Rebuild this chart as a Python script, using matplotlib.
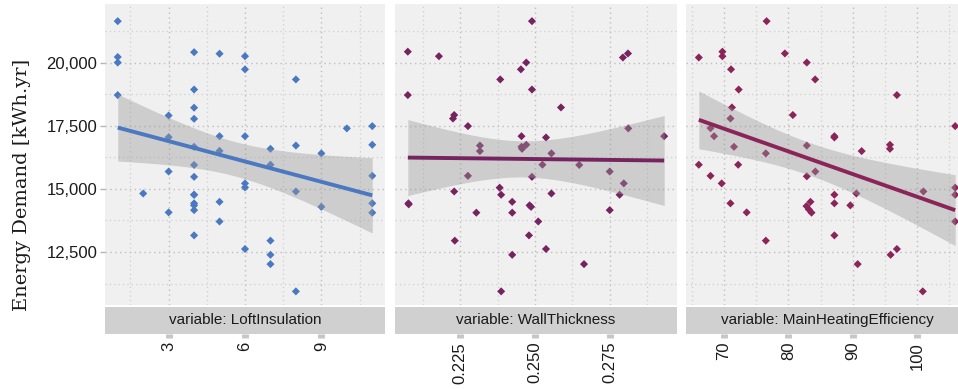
"""
Energy demand vs. three house parameters — faceted scatter with linear fits.
"""
import numpy as np
import matplotlib
matplotlib.use("Agg")
import matplotlib.pyplot as plt
from matplotlib.ticker import FixedLocator, StrMethodFormatter

# ── Data ─────────────────────────────────────────────────────────────────────

loft_x = [1, 1, 1, 1,
          2,
          3, 3, 3, 3,
          4, 4, 4, 4, 4, 4, 4, 4, 4, 4, 4, 4, 4,
          5, 5, 5, 5, 5,
          6, 6, 6, 6, 6, 6,
          7, 7, 7, 7, 7,
          8, 8, 8, 8,
          9, 9,
          10,
          11, 11, 11, 11, 11]
loft_y = [21650, 20230, 20010, 18720,
          14820,
          17910, 17050, 15690, 14070,
          20420, 18940, 18220, 17780, 16670, 15950, 15480, 14770, 14770, 14430, 14350, 14160, 13160,
          20360, 17090, 16510, 14490, 13710,
          20260, 19740, 17090, 15220, 15060, 12620,
          16590, 15960, 12950, 12390, 12020,
          19340, 16720, 14900, 10940,
          16410, 14290,
          17400,
          17490, 16750, 15520, 14430, 14060]

wall_x = [0.2075, 0.2075, 0.2077, 0.2078, 0.2179, 0.2230, 0.2226, 0.2230, 0.2232, 0.2276,
          0.2276, 0.2304, 0.2316, 0.2316, 0.2384, 0.2382, 0.2387, 0.2387, 0.2424, 0.2424,
          0.2424, 0.2453, 0.2455, 0.2455, 0.2457, 0.2471, 0.2471, 0.2482, 0.2487, 0.2480,
          0.2490, 0.2490, 0.2490, 0.2511, 0.2525, 0.2537, 0.2537, 0.2555, 0.2555, 0.2587,
          0.2648, 0.2664, 0.2750, 0.2750, 0.2783, 0.2797, 0.2794, 0.2811, 0.2812, 0.2932]
wall_y = [20440, 18720, 14430, 14390, 20260, 17930, 17790, 14900, 12950, 17490,
          15520, 14060, 16720, 16500, 19340, 15050, 14770, 10940, 14490, 14060,
          12390, 19740, 17090, 16670, 16590, 20010, 16750, 14350, 14290, 13160,
          21650, 18940, 15480, 13710, 15960, 17040, 12620, 16410, 14820, 18230,
          15950, 12020, 15690, 14160, 14770, 15220, 20210, 20370, 17400, 17090]

heat_x = [66.08, 66.08, 67.90, 68.45, 67.90, 69.75, 69.75, 69.64, 71.09, 71.23,
          71.00, 71.55, 71.00, 72.28, 72.20, 73.52, 76.50, 76.62, 76.50, 79.46,
          80.70, 82.87, 82.87, 82.87, 84.17, 84.20, 83.44, 82.82, 83.18, 83.60,
          87.16, 87.16, 87.16, 87.16, 87.16, 89.64, 90.57, 90.78, 91.40, 95.80,
          95.80, 96.88, 96.88, 95.90, 100.90, 101.00, 105.94, 105.94, 105.94, 105.94]
heat_y = [20210, 15960, 17410, 17090, 15520, 20440, 20260, 15220, 19740, 18230,
          17790, 16670, 14430, 18940, 15960, 14070, 16410, 21650, 12950, 20370,
          17930, 20010, 16720, 15500, 19340, 15690, 14490, 14320, 14190, 14060,
          17090, 17040, 14770, 14430, 13160, 14350, 14820, 12020, 16500, 16750,
          16590, 18720, 12620, 12390, 10940, 14900, 17490, 15050, 14770, 13710]

variables = ["LoftInsulation", "WallThickness", "MainHeatingEfficiency"]
major_ticks = [[3, 6, 9], [0.225, 0.250, 0.275], [70, 80, 90, 100]]
tick_fmt = ["{x:.0f}", "{x:.3f}", "{x:.0f}"]
colors = ["#4a78c1", "#76245f", "#8b2458"]

y_major = [12500, 15000, 17500, 20000]
y_minor = [11250, 13750, 16250, 18750, 21250]

# ── Layout (pixels on a 958 x 389 canvas) ────────────────────────────────────

W, H = 958, 389
PANEL_X = [(105, 385), (395, 677), (686, 968)]
PANEL_TOP, PANEL_BOT = 4, 305
STRIP_TOP, STRIP_BOT = 306.5, 333.5
YLIM = (10400, 22330)
T_CRIT = 2.0106          # t(0.975, df=48)

BG_PANEL = "#f0f0f0"
BG_STRIP = "#d0d0d0"

plt.rcParams["font.family"] = ["Liberation Sans", "DejaVu Sans"]


def lm_band(x, y, n_pts=80):
    x = np.asarray(x, float)
    y = np.asarray(y, float)
    n = len(x)
    b, a = np.polyfit(x, y, 1)
    resid = y - (a + b * x)
    s = np.sqrt(np.sum(resid ** 2) / (n - 2))
    xbar = x.mean()
    sxx = np.sum((x - xbar) ** 2)
    xs = np.linspace(x.min(), x.max(), n_pts)
    fit = a + b * xs
    se = s * np.sqrt(1.0 / n + (xs - xbar) ** 2 / sxx)
    return xs, fit, fit - T_CRIT * se, fit + T_CRIT * se


def expand(vals, frac=0.05):
    lo, hi = min(vals), max(vals)
    pad = (hi - lo) * frac
    return lo - pad, hi + pad


fig = plt.figure(figsize=(W / 100, H / 100), dpi=100)
fig.patch.set_facecolor("white")

data = [(loft_x, loft_y), (wall_x, wall_y), (heat_x, heat_y)]

for i, ((xv, yv), var) in enumerate(zip(data, variables)):
    x0, x1 = PANEL_X[i]
    ax = fig.add_axes([x0 / W, 1 - PANEL_BOT / H, (x1 - x0) / W, (PANEL_BOT - PANEL_TOP) / H])
    sax = fig.add_axes([x0 / W, 1 - STRIP_BOT / H, (x1 - x0) / W, (STRIP_BOT - STRIP_TOP) / H])

    xlim = expand(xv)
    majors = major_ticks[i]
    step = majors[1] - majors[0]
    minors = [m - step / 2 for m in majors] + [majors[-1] + step / 2]

    # ── Panel ──────────────────────────────────────────────────────────────
    ax.set_facecolor(BG_PANEL)
    for sp in ax.spines.values():
        sp.set_visible(False)
    ax.set_xlim(*xlim)
    ax.set_ylim(*YLIM)

    for v in majors:
        ax.axvline(v, color="#bdbdbd", lw=1.0, ls=(0, (1, 2.5)), zorder=0)
    for v in minors:
        ax.axvline(v, color="#cfcfcf", lw=0.9, ls=(0, (1, 2.5)), zorder=0)
    for v in y_major:
        ax.axhline(v, color="#bdbdbd", lw=1.0, ls=(0, (1, 2.5)), zorder=0)
    for v in y_minor:
        ax.axhline(v, color="#cfcfcf", lw=0.9, ls=(0, (1, 2.5)), zorder=0)

    ax.scatter(xv, yv, marker="D", s=17, color=colors[i], edgecolors="none", zorder=2)

    xs, fit, lo, hi = lm_band(xv, yv)
    ax.fill_between(xs, lo, hi, color="#999999", alpha=0.4, lw=0, zorder=3)
    ax.plot(xs, fit, color=colors[i], lw=2.8, zorder=4, solid_capstyle="butt")

    ax.set_xticks([])
    ax.yaxis.set_major_locator(FixedLocator(y_major))
    ax.yaxis.set_major_formatter(StrMethodFormatter("{x:,.0f}"))
    if i == 0:
        ax.tick_params(axis="y", length=3.5, width=1, color="#b5b5b5",
                       pad=2, labelsize=12, labelcolor="#1a1a1a")
    else:
        ax.tick_params(axis="y", length=0, labelleft=False)

    # ── Strip with the x axis beneath it ───────────────────────────────────
    sax.set_facecolor(BG_STRIP)
    for sp in sax.spines.values():
        sp.set_visible(False)
    sax.set_xlim(*xlim)
    sax.set_ylim(0, 1)
    sax.set_yticks([])
    sax.set_xticks(majors)
    sax.xaxis.set_major_formatter(StrMethodFormatter(tick_fmt[i]))
    sax.tick_params(axis="x", direction="out", length=3, width=5, color="#c6c6c6",
                    pad=3, labelsize=12, labelrotation=90, labelcolor="#1a1a1a")
    sax.text(0.5, 0.5, f"variable: {var}", transform=sax.transAxes,
             ha="center", va="center", fontsize=11, color="#1a1a1a")

fig.text(22 / W, 1 - 185 / H, "Energy Demand [kWh.yr]", rotation=90,
         ha="center", va="center", fontsize=14, family="DejaVu Serif", color="#1a1a1a")

fig.savefig("out.png", dpi=100, facecolor="white")
